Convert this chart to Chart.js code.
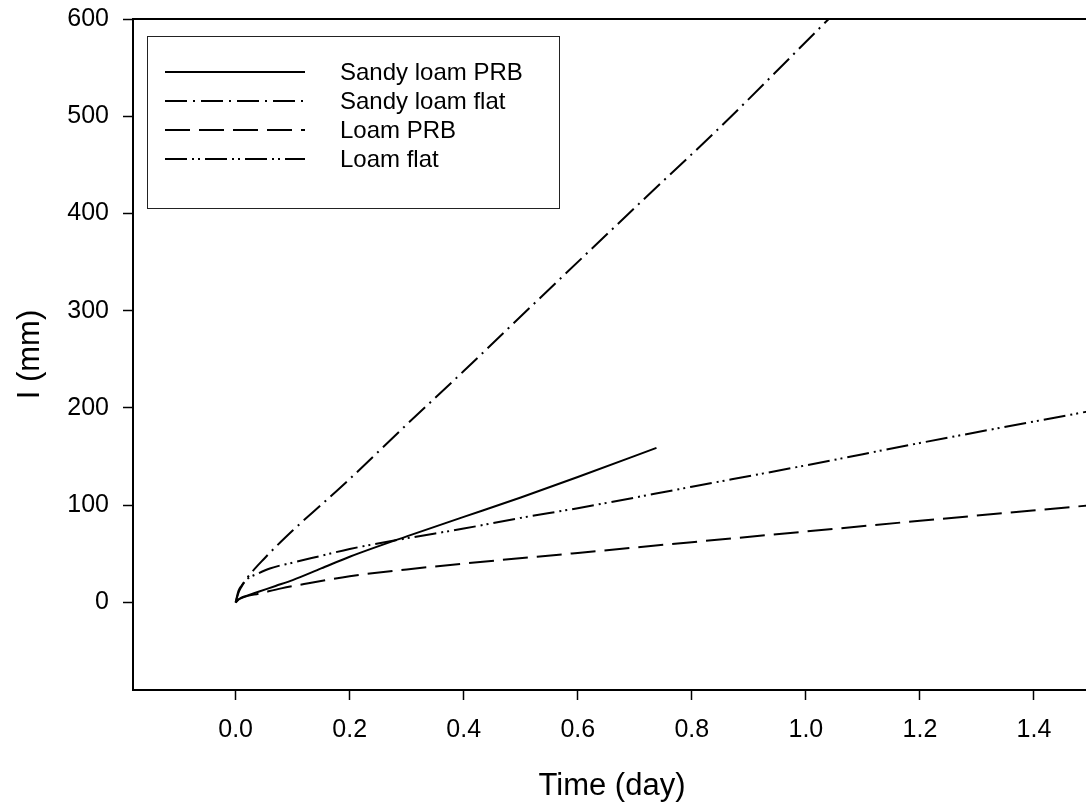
<!DOCTYPE html>
<html lang="en">
<head>
  <meta charset="UTF-8" />
  <title>Cumulative infiltration</title>
  <script src="https://cdn.jsdelivr.net/npm/chart.js"></script>
  <style>
    html, body {
      margin: 0;
      padding: 0;
      background: #fff;
      overflow: hidden;
    }
    #chart {
      display: block;
    }
  </style>
</head>
<body>
  <canvas id="chart" width="1100" height="805"></canvas>

  <script>
    // values: time (day) and cumulative infiltration I (mm)
    const tSandyPRB = [0, 0.005, 0.01, 0.02, 0.04, 0.07, 0.1, 0.15, 0.2, 0.3, 0.4, 0.5, 0.6, 0.738];
    const iSandyPRB = [0, 3, 5, 7, 11, 17, 23, 35, 47, 68, 88, 108, 129, 159];

    const tSandyFlat = [0, 0.005, 0.01, 0.02, 0.05, 0.1, 0.157, 0.2, 0.3, 0.4, 0.53, 0.72, 0.85, 1.04];
    const iSandyFlat = [0, 10, 16, 25, 45, 74, 104, 127, 183, 238, 311, 417, 489, 600];

    const tLoamPRB = [0, 0.005, 0.01, 0.02, 0.04, 0.08, 0.12, 0.2, 0.3, 0.4, 0.6, 0.8, 1.0, 1.2, 1.5];
    const iLoamPRB = [0, 3, 4.5, 6.5, 9, 14.5, 19, 27, 34, 40, 51, 62, 73, 84, 100];

    const tLoamFlat = [0, 0.005, 0.01, 0.02, 0.04, 0.06, 0.1, 0.15, 0.2, 0.3, 0.4, 0.5, 0.6, 0.8, 1.0, 1.2, 1.5];
    const iLoamFlat = [0, 12, 17, 24, 30, 35, 41, 48, 55, 66, 76, 87, 97, 119, 141, 164, 197];

    const seriesNames = ['Sandy loam PRB', 'Sandy loam flat', 'Loam PRB', 'Loam flat'];

    // tick positions
    const xTicks = [0, 0.2, 0.4, 0.6, 0.8, 1.0, 1.2, 1.4];
    const yTicks = [0, 100, 200, 300, 400, 500, 600];

    const FONT = "'Liberation Sans', Arial, sans-serif";

    function pts(ts, vs) {
      return ts.map((t, i) => ({ x: t, y: vs[i] }));
    }

    // box around the plot (top line) and the legend frame drawn by hand
    const framePlugin = {
      id: 'frame',
      afterDraw(chart) {
        const ctx = chart.ctx;
        const a = chart.chartArea;
        ctx.save();
        ctx.strokeStyle = '#000';
        ctx.lineWidth = 2;
        ctx.beginPath();
        ctx.moveTo(a.left - 1, a.top);
        ctx.lineTo(a.right, a.top);
        ctx.lineTo(a.right, a.bottom);
        ctx.stroke();

        // legend
        const bx = 147, by = 36, bw = 412, bh = 172;
        ctx.lineWidth = 1;
        ctx.strokeStyle = '#222';
        ctx.strokeRect(bx + 0.5, by + 0.5, bw, bh);

        ctx.font = '24px ' + FONT;
        ctx.fillStyle = '#000';
        ctx.textBaseline = 'middle';
        ctx.textAlign = 'left';
        chart.data.datasets.forEach((ds, i) => {
          const y = 72 + i * 29;
          ctx.strokeStyle = '#000';
          ctx.lineWidth = 2;
          ctx.setLineDash(ds.borderDash || []);
          ctx.beginPath();
          ctx.moveTo(165, y);
          ctx.lineTo(305, y);
          ctx.stroke();
          ctx.setLineDash([]);
          ctx.fillText(ds.label, 340, y + 1);
        });
        ctx.restore();
      }
    };

    new Chart(document.getElementById('chart'), {
      type: 'line',
      data: {
        datasets: [
          { label: seriesNames[0], data: pts(tSandyPRB, iSandyPRB), borderDash: [] },
          { label: seriesNames[1], data: pts(tSandyFlat, iSandyFlat), borderDash: [22, 6, 2, 6] },
          { label: seriesNames[2], data: pts(tLoamPRB, iLoamPRB), borderDash: [25, 9] },
          { label: seriesNames[3], data: pts(tLoamFlat, iLoamFlat), borderDash: [22, 5, 2, 4, 2, 5] }
        ].map(ds => Object.assign(ds, {
          borderColor: '#000',
          borderWidth: 2,
          pointRadius: 0,
          fill: false,
          tension: 0.3,
          cubicInterpolationMode: 'monotone'
        }))
      },
      options: {
        responsive: false,
        animation: false,
        layout: { padding: { top: 19, right: 9, left: 0, bottom: 0 } },
        plugins: {
          legend: { display: false },
          tooltip: { enabled: false }
        },
        scales: {
          x: {
            type: 'linear',
            min: -0.18,
            max: 1.5,
            afterFit: s => { s.height = 115; s.paddingLeft = 0; s.paddingRight = 0; },
            afterBuildTicks: s => { s.ticks = xTicks.map(v => ({ value: v })); },
            border: { display: true, color: '#000', width: 2 },
            grid: {
              drawOnChartArea: false,
              drawTicks: true,
              tickLength: 10,
              tickWidth: 1.5,
              color: '#000'
            },
            ticks: {
              padding: 15,
              color: '#000',
              font: { family: FONT, size: 25 },
              maxRotation: 0,
              autoSkip: false,
              callback: v => v.toFixed(1)
            },
            title: {
              display: true,
              text: 'Time (day)',
              color: '#000',
              font: { family: FONT, size: 31 },
              padding: { top: 0, bottom: 0 }
            }
          },
          y: {
            type: 'linear',
            min: -90,
            max: 600,
            afterFit: s => { s.width = 133; s.paddingTop = 0; s.paddingBottom = 0; },
            afterBuildTicks: s => { s.ticks = yTicks.map(v => ({ value: v })); },
            border: { display: true, color: '#000', width: 2 },
            grid: {
              drawOnChartArea: false,
              drawTicks: true,
              tickLength: 10,
              tickWidth: 1.5,
              color: '#000'
            },
            ticks: {
              padding: 14,
              color: '#000',
              autoSkip: false,
              font: { family: FONT, size: 25 }
            },
            title: {
              display: true,
              text: 'I (mm)',
              color: '#000',
              font: { family: FONT, size: 31 },
              padding: { top: 12, bottom: 0 }
            }
          }
        }
      },
      plugins: [framePlugin]
    });
  </script>
</body>
</html>
